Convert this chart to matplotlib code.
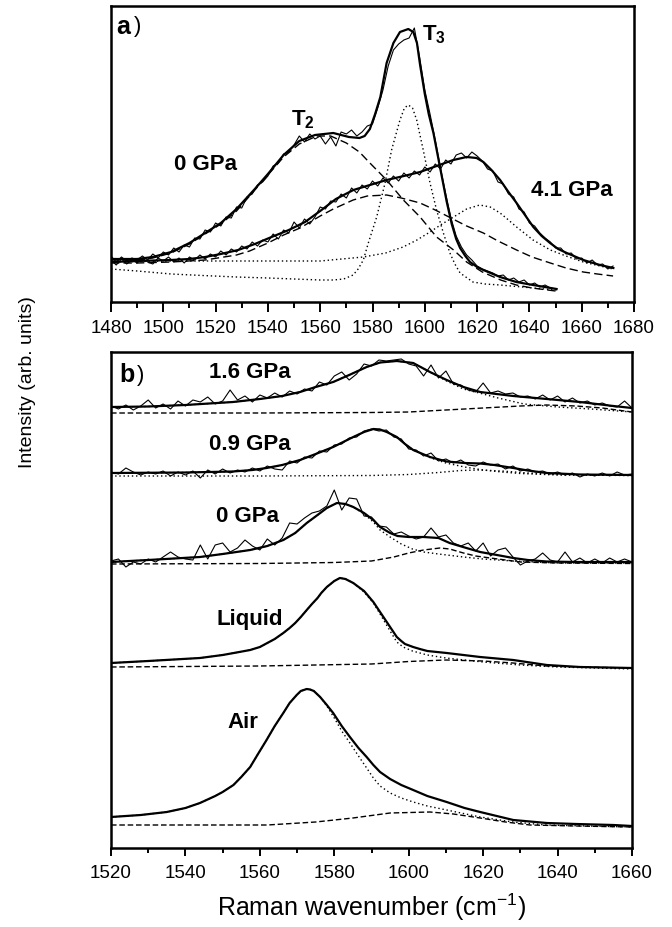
import numpy as np
import matplotlib
matplotlib.use("Agg")
import matplotlib.pyplot as plt

plt.rcParams['font.family'] = ['Liberation Sans', 'DejaVu Sans']
plt.rcParams['mathtext.fontset'] = 'custom'
plt.rcParams['mathtext.rm'] = 'Liberation Sans'
plt.rcParams['mathtext.bf'] = 'Liberation Sans:bold'

# ---------------- Panel a data ----------------
a_fit0_x = [1480, 1490, 1496, 1503, 1510, 1516, 1522, 1528, 1535, 1540, 1546, 1552, 1558, 1565, 1571,
            1575, 1577, 1579, 1581, 1583, 1585.4, 1588, 1590.5, 1593.7, 1595.6, 1597, 1598.2, 1600,
            1601.5, 1603.3, 1605.8, 1608.4, 1610.3, 1612, 1613.5, 1615.5, 1617.3, 1620, 1622.4, 1628.8,
            1635, 1641.4, 1650.4]
a_fit0_y = [43, 43, 45, 50, 59, 69, 79, 93, 113, 128, 147, 161, 167, 169, 165,
            164, 166, 173, 188, 205, 239, 259, 270, 273, 270, 259, 237, 208,
            188, 169, 135, 100, 78, 63, 54, 46, 40, 35, 32, 25,
            20, 17, 13]

a_t2_x = [1480, 1490, 1496, 1503, 1510, 1516, 1522, 1528, 1535, 1540, 1546, 1552, 1558.7, 1564, 1570,
          1575, 1579, 1585.4, 1591.8, 1598.2, 1604.5, 1611, 1616, 1622, 1629, 1635, 1641, 1650]
a_t2_y = [42, 42, 44, 49, 58, 68, 78, 91, 112, 127, 145, 158, 166, 166, 159,
          150, 139, 122, 102, 85, 65, 52, 40, 30, 22, 17, 14, 11]

a_t3_x = [1480, 1490, 1503, 1515, 1528, 1540, 1550, 1560, 1565, 1569, 1572.6, 1574.5, 1576.5, 1578.4,
          1580, 1581.6, 1583.2, 1584.8, 1587.3, 1590.5, 1592.2, 1593.7, 1595.3, 1596.9, 1599.4, 1602,
          1604.5, 1607.1, 1609.6, 1611.5, 1613.5, 1618.4, 1623, 1628.8, 1641.4, 1650.4]
a_t3_y = [33, 31, 28, 26.5, 25, 24, 23, 22, 22, 23, 27, 33, 42, 59,
          72, 85, 102, 119, 152, 182, 194, 197, 194, 182, 152, 119,
          92, 69, 49, 38, 29, 20, 18, 17, 14, 12]

a_fit41_x = [1480, 1490, 1503, 1510, 1516, 1522, 1528.6, 1535, 1541.4, 1548, 1554.2, 1560, 1566, 1572.7,
             1579, 1585.4, 1592, 1598.2, 1604.5, 1610.9, 1616, 1619.8, 1622.4, 1625.5, 1628.8, 1632,
             1635.1, 1638.3, 1641.5, 1644.7, 1647.9, 1651, 1654.3, 1660.6, 1667, 1672.1]
a_fit41_y = [40, 41, 42, 43, 45, 48, 52, 58, 65, 72, 80, 91, 103, 112,
             117, 122, 126, 130, 136, 142, 145, 144, 140, 132, 122, 110,
             99, 87, 75, 66, 59, 53, 49, 42, 37, 34]

a_d41_x = [1480, 1490, 1503, 1516, 1528, 1533, 1540, 1546, 1552.3, 1560, 1565, 1572.6, 1578, 1585.4,
           1591, 1598.2, 1604, 1610, 1616, 1622.4, 1628, 1635.1, 1641, 1648, 1654, 1660.6, 1666, 1672]
a_d41_y = [39, 39, 40, 42, 47, 51, 59, 67, 74, 86, 93, 102, 106, 107,
           104, 99, 92, 84, 76, 69, 61, 52, 45, 39, 34, 30, 28, 26]

a_p41_x = [1480, 1503, 1530, 1560, 1576.5, 1585, 1591.7, 1597, 1602, 1606, 1611, 1616, 1621, 1625,
           1628.8, 1632, 1635.1, 1641.4, 1648, 1654, 1660.6, 1667, 1672]
a_p41_y = [40, 41, 41, 41, 45, 49, 55, 62, 70, 77, 85, 93, 97, 95,
           89, 82, 75, 62, 52, 46, 40, 36, 33]

a_grid0 = np.arange(1480, 1651, 2)
a_data0 = [46, 40, 45, 41, 44, 42, 46, 42, 48, 44, 50, 47, 54, 50, 57, 55, 64, 63, 72, 70,
           79, 76, 85, 84, 95, 94, 105, 108, 117, 120, 126, 136, 139, 148, 150, 157, 166, 160, 168, 163,
           166, 158, 165, 156, 170, 168, 172, 166, 170, 176, 178, 194, 212, 236, 252, 258, 262, 264, 274, 245,
           212, 188, 162, 134, 108, 84, 66, 55, 47, 42, 36, 33, 31, 29, 26, 27, 22, 24, 20, 22,
           17, 19, 15, 17, 14, 13]

a_grid41 = np.arange(1480, 1673, 2)
a_data41 = [42, 37, 43, 38, 42, 39, 44, 40, 38, 44, 41, 45, 40, 44, 39, 45, 42, 47, 43, 48,
            45, 51, 47, 53, 50, 56, 53, 60, 56, 62, 60, 68, 63, 72, 69, 80, 74, 83, 78, 85,
            95, 93, 101, 100, 108, 104, 114, 109, 117, 113, 121, 116, 124, 119, 126, 121, 129, 124, 131, 127,
            135, 130, 138, 133, 142, 138, 147, 149, 144, 150, 146, 141, 133, 131, 120, 118, 108, 105, 93, 90,
            79, 76, 69, 64, 60, 54, 54, 48, 49, 43, 44, 39, 42, 37, 38, 33, 36]

# ---------------- Panel b data ----------------
b_grid = np.arange(1520, 1661, 2)

b16_fit_x = [1520, 1530, 1540, 1552.8, 1560, 1566, 1570.8, 1575, 1579.7, 1584, 1588.7, 1592.3, 1596.8,
             1601.2, 1605.7, 1610.2, 1614.7, 1619.2, 1623.6, 1628.1, 1637.1, 1646, 1655, 1660]
b16_fit_y = [441, 441.5, 443, 446, 449, 452, 456, 461, 466, 473, 481, 485.5, 487,
             485, 476, 468, 461, 456, 454, 452, 449, 446, 442, 440]
b16_dot_x = [1520, 1530, 1540, 1552.8, 1560, 1566, 1570.8, 1575, 1579.7, 1584, 1588.7, 1592.3, 1596.8,
             1601.2, 1605.7, 1610.2, 1614.7, 1620, 1624, 1631, 1640, 1649, 1660]
b16_dot_y = [441, 441.5, 443, 446, 449, 452, 456, 461, 466, 473, 481, 485.5, 487,
             485, 476, 467, 459, 454, 450, 444, 441, 439, 436]
b16_dash_x = [1520, 1560, 1590, 1600, 1610, 1620, 1630, 1637, 1645, 1652, 1660]
b16_dash_y = [435, 435, 435.5, 436, 438, 440, 442, 443, 442, 440, 436]
b16_data = [442, 439, 443, 438, 442, 448, 440, 444, 439, 447, 442, 448, 446, 451, 444, 447, 458, 448, 452, 446,
            453, 450, 455, 451, 457, 454, 459, 457, 466, 463, 472, 476, 468, 474, 484, 482, 488, 487, 488, 489,
            484, 482, 472, 483, 470, 477, 464, 463, 458, 456, 465, 455, 457, 454, 455, 451, 452, 449, 453, 448,
            452, 446, 450, 445, 447, 443, 445, 442, 441, 447, 440]

b09_fit_x = [1520, 1540, 1552.8, 1558, 1561.8, 1566, 1570.8, 1575, 1579.7, 1585.1, 1588, 1590.5, 1592.3,
             1594.1, 1596.8, 1599, 1601.2, 1605.7, 1610.2, 1615, 1619.2, 1623, 1628.1, 1632, 1637.1, 1646, 1660]
b09_fit_y = [375, 375.5, 376.5, 378, 380, 383, 388, 394, 401, 411, 416, 419, 418.5,
             416, 411, 404, 398, 391, 386.5, 385, 384.5, 383, 380, 377.5, 375, 373.5, 373]
b09_dot1_x = [1520, 1540, 1552.8, 1558, 1561.8, 1566, 1570.8, 1575, 1579.7, 1585.1, 1588, 1590.5, 1592.3,
              1594.1, 1596.8, 1599, 1601.2, 1606, 1610, 1615, 1620, 1625, 1630, 1640, 1660]
b09_dot1_y = [375, 375.5, 376.5, 378, 380, 383, 388, 394, 401, 411, 416, 419, 418.5,
              416, 411, 404, 398, 390, 385, 381, 378, 376, 374.5, 373, 372.5]
b09_dot2_x = [1520, 1560, 1590, 1600, 1608, 1614, 1619, 1625, 1632, 1640, 1660]
b09_dot2_y = [372, 372, 372.5, 373.5, 375.5, 377.5, 378, 377, 375, 373.5, 372.5]
b09_data = [376, 374, 380, 376, 373, 376, 374, 377, 372, 376, 373, 377, 370, 378, 374, 379, 375, 378, 376, 380,
            377, 382, 379, 378, 387, 385, 391, 390, 397, 396, 403, 404, 410, 411, 417, 419, 417, 418, 411, 409,
            399, 398, 392, 395, 387, 389, 385, 388, 383, 382, 386, 383, 384, 379, 382, 377, 379, 376, 377, 374,
            376, 373, 375, 371, 374, 372, 375, 372, 376, 373, 374]

b00_fit_x = [1520, 1530, 1543.9, 1550, 1557.4, 1562, 1566.3, 1569.5, 1572.6, 1575.5, 1578, 1580.7, 1583,
             1585.1, 1588, 1590.5, 1592.3, 1595, 1597, 1600, 1604, 1608, 1611, 1614.6, 1619.2, 1623.7,
             1628.1, 1632, 1637.1, 1645, 1660]
b00_fit_y = [286, 288, 291, 294, 298, 302, 308, 315, 325, 333, 340, 345, 344,
             341, 335, 328, 321, 315, 312, 311, 311, 310, 305, 301, 296, 293,
             290, 288, 286.5, 286, 286]
b00_dot_x = [1520, 1530, 1543.9, 1550, 1557.4, 1562, 1566.3, 1569.5, 1572.6, 1575.5, 1578, 1580.7, 1583,
             1585.1, 1588, 1590.5, 1592.3, 1595, 1598, 1601, 1604, 1608, 1614.7, 1620, 1628, 1640, 1660]
b00_dot_y = [286, 288, 291, 294, 298, 302, 308, 315, 325, 333, 340, 345, 344,
             341, 334, 326, 318, 311, 304, 299, 296, 294, 291, 289, 287, 285, 285]
b00_dash_x = [1520, 1560, 1580, 1590, 1596, 1600, 1604, 1608.4, 1611, 1614.7, 1618, 1621.9, 1626, 1630,
              1640, 1660]
b00_dash_y = [284, 284.5, 285.5, 287, 291, 295, 298, 300, 299, 295, 292, 290, 288, 286, 285, 284.5]
b00_data = [287, 289, 281, 286, 284, 289, 286, 291, 296, 291, 289, 288, 303, 289, 303, 305, 296, 300, 308, 302,
            298, 309, 303, 310, 325, 324, 330, 335, 337, 342, 358, 338, 350, 349, 332, 331, 322, 321, 314, 316,
            312, 309, 311, 320, 311, 313, 305, 302, 305, 297, 305, 292, 298, 300, 291, 283, 287, 289, 295, 288,
            286, 296, 286, 290, 285, 289, 285, 290, 286, 289, 286]

bliq_fit_x = [1520, 1530, 1543.9, 1550, 1553, 1557.4, 1560, 1562, 1564, 1566.3, 1568, 1569.5, 1571, 1572.6,
              1574, 1575.5, 1576.5, 1578, 1579, 1580, 1581.5, 1583, 1585.1, 1588, 1590.5, 1592.3, 1595,
              1596.8, 1598, 1599, 1601.2, 1603, 1605, 1610.2, 1619.2, 1628.1, 1637.1, 1646, 1660]
bliq_fit_y = [185, 187, 190, 193, 195, 198, 201, 205, 209, 215, 220, 225, 231, 238,
              244, 250, 255, 261, 264, 267, 270, 269, 265, 257, 246, 236, 221,
              211, 207, 204, 201, 199, 197, 195, 191, 188, 183, 181, 180]
bliq_dot_x = [1520, 1530, 1543.9, 1550, 1553, 1557.4, 1560, 1562, 1564, 1566.3, 1568, 1569.5, 1571, 1572.6,
              1574, 1575.5, 1576.5, 1578, 1579, 1580, 1581.5, 1583, 1585.1, 1588, 1590.5, 1592.3, 1595,
              1596.8, 1598.5, 1601, 1605, 1610, 1620, 1630, 1640, 1660]
bliq_dot_y = [185, 187, 190, 193, 195, 198, 201, 205, 209, 215, 220, 225, 231, 238,
              244, 250, 255, 261, 264, 267, 270, 269, 265, 256, 245, 234, 217,
              206, 201, 197, 193, 190, 186, 183, 181, 179]
bliq_dash_x = [1520, 1560, 1590, 1600, 1610, 1620, 1628, 1637, 1646, 1660]
bliq_dash_y = [181, 182, 184, 186.5, 188, 187, 185, 182, 181, 180]

bair_fit_x = [1520, 1528, 1535, 1540, 1543.9, 1548, 1550, 1552.9, 1555, 1557.4, 1559.5, 1561.8, 1564,
              1566.3, 1568, 1569.9, 1571, 1572.6, 1573.5, 1574.5, 1576.2, 1578, 1579.7, 1582, 1584.2,
              1586.5, 1588.7, 1590.5, 1592.3, 1595, 1598, 1601.2, 1605, 1610.2, 1615, 1619.2, 1628.1,
              1637.1, 1645, 1655, 1660]
bair_fit_y = [31, 33, 36, 40, 45, 52, 56, 63, 71, 81, 94, 108, 122,
              135, 145, 153, 157, 159, 158.5, 157, 151, 143, 135, 122, 111,
              100, 91, 83, 76, 69, 63, 58, 52, 46, 40, 36, 28,
              25, 24, 23, 22]
bair_dot_x = [1520, 1528, 1535, 1540, 1543.9, 1548, 1550, 1552.9, 1555, 1557.4, 1559.5, 1561.8, 1564,
              1566.3, 1568, 1569.9, 1571, 1572.6, 1573.5, 1574.5, 1576.2, 1578, 1580, 1582, 1584.2,
              1586.5, 1588.7, 1590.5, 1592.3, 1595, 1598, 1601.2, 1605, 1610.2, 1619.2, 1628, 1637, 1660]
bair_dot_y = [31, 33, 36, 40, 45, 52, 56, 63, 71, 81, 94, 108, 122,
              135, 145, 153, 157, 159, 158.5, 157, 151, 142, 130, 117, 105,
              92, 80, 70, 62, 55, 50, 46, 42, 38, 31, 26, 23, 21]
bair_dash_x = [1520, 1562, 1575, 1585, 1595, 1605.7, 1612, 1619.2, 1626, 1632.6, 1645, 1660]
bair_dash_y = [23, 23, 26, 30, 35, 36, 34, 30, 26, 23, 22, 21]

# ---------------- Figure ----------------
fig = plt.figure(figsize=(6.72, 9.27), dpi=100)
axa = fig.add_axes([111/672, 1-302/927, 523/672, 296/927])
axb = fig.add_axes([111/672, 1-848/927, 521/672, 496/927])

FIT_LW = 1.6
DATA_LW = 0.8
DASH_A = (0, (6, 3))
DASH_B = (0, (4, 2))
DOT = (0, (1, 2))
k = 'black'

# panel a
axa.plot(a_grid0, a_data0, color=k, lw=DATA_LW)
axa.plot(a_grid41, a_data41, color=k, lw=DATA_LW)
axa.plot(a_t2_x, a_t2_y, color=k, lw=1.0, ls=DASH_A)
axa.plot(a_d41_x, a_d41_y, color=k, lw=1.0, ls=DASH_A)
axa.plot(a_t3_x, a_t3_y, color=k, lw=1.0, ls=DOT)
axa.plot(a_p41_x, a_p41_y, color=k, lw=1.0, ls=DOT)
axa.plot(a_fit0_x, a_fit0_y, color=k, lw=FIT_LW)
axa.plot(a_fit41_x, a_fit41_y, color=k, lw=FIT_LW)
axa.set_xlim(1480, 1680)
axa.set_ylim(0, 296)
axa.set_xticks(np.arange(1480, 1681, 20))
axa.set_xticks(np.arange(1490, 1681, 20), minor=True)

txt_kw = dict(fontsize=16, fontweight='bold', ha='center', va='center')
axa.text(1482.0, 275, 'a', fontsize=18, fontweight='bold', ha='left', va='center')
axa.text(1488.6, 275, ')', fontsize=16, ha='left', va='center')
axa.text(1553.4, 182, r'$\mathbf{T_2}$', fontsize=16, ha='center', va='center')
axa.text(1603.5, 267, r'$\mathbf{T_3}$', fontsize=16, ha='center', va='center')
axa.text(1516, 137, '0 GPa', **txt_kw)
axa.text(1656.3, 112, '4.1 GPa', **txt_kw)

# panel b
for xs, ys in [(b_grid, b16_data), (b_grid, b09_data), (b_grid, b00_data)]:
    axb.plot(xs, ys, color=k, lw=DATA_LW)
for xs, ys in [(b16_dot_x, b16_dot_y), (b09_dot1_x, b09_dot1_y), (b09_dot2_x, b09_dot2_y),
               (b00_dot_x, b00_dot_y), (bliq_dot_x, bliq_dot_y), (bair_dot_x, bair_dot_y)]:
    axb.plot(xs, ys, color=k, lw=1.0, ls=DOT)
for xs, ys in [(b16_dash_x, b16_dash_y), (b00_dash_x, b00_dash_y), (bliq_dash_x, bliq_dash_y),
               (bair_dash_x, bair_dash_y)]:
    axb.plot(xs, ys, color=k, lw=1.0, ls=DASH_B)
for xs, ys in [(b16_fit_x, b16_fit_y), (b09_fit_x, b09_fit_y), (b00_fit_x, b00_fit_y),
               (bliq_fit_x, bliq_fit_y), (bair_fit_x, bair_fit_y)]:
    axb.plot(xs, ys, color=k, lw=FIT_LW)
axb.set_xlim(1520, 1660)
axb.set_ylim(0, 496)
axb.set_xticks(np.arange(1520, 1661, 20))
axb.set_xticks(np.arange(1530, 1661, 20), minor=True)

axb.text(1522.3, 473, 'b', fontsize=18, fontweight='bold', ha='left', va='center')
axb.text(1527.0, 473, ')', fontsize=16, ha='left', va='center')
axb.text(1557.4, 475, '1.6 GPa', **txt_kw)
axb.text(1557.4, 403, '0.9 GPa', **txt_kw)
axb.text(1556.8, 331, '0 GPa', **txt_kw)
axb.text(1557.4, 228, 'Liquid', **txt_kw)
axb.text(1555.5, 126, 'Air', **txt_kw)

for ax in (axa, axb):
    ax.set_yticks([])
    for s in ax.spines.values():
        s.set_linewidth(1.8)
axa.tick_params(axis='x', which='major', direction='out', length=7.5, width=1.4,
                labelsize=13.5, pad=5.5, top=False)
axa.tick_params(axis='x', which='minor', direction='out', length=4.5, width=1.4, top=False)
axb.tick_params(axis='x', which='major', direction='out', length=6, width=1.4,
                labelsize=13.5, pad=6.5, top=False)
axb.tick_params(axis='x', which='minor', direction='out', length=3.5, width=1.4, top=False)

axb.set_xlabel(r'Raman wavenumber (cm$^{-1}$)', fontsize=18, labelpad=7)
fig.text(27/672, 1-382/927, 'Intensity (arb. units)', rotation=90, fontsize=14,
         ha='center', va='center')

fig.savefig('out.png', dpi=100)
